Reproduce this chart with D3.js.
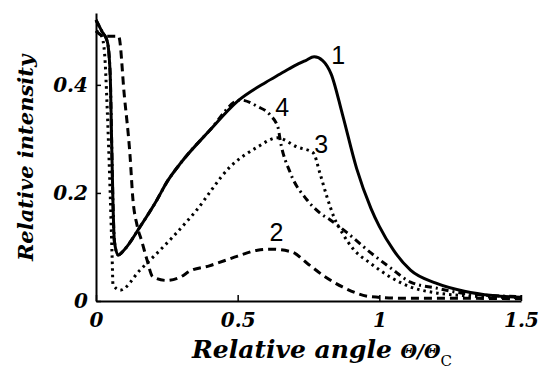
<!DOCTYPE html>
<html>
<head>
<meta charset="utf-8">
<script src="https://cdn.jsdelivr.net/npm/d3@7"></script>
<style>
  body { margin: 0; background: #fff; }
  .tick text, .axis-title { font-family: "DejaVu Serif", serif; font-weight: bold; font-style: italic; }
  .curve-label { font-family: "Liberation Sans", sans-serif; }
</style>
</head>
<body>
<svg class="chart" width="543" height="373"></svg>
<script>
// values
var xTicks = [0, 0.5, 1, 1.5];
var yTicks = [0, 0.2, 0.4];

var x1 = [0, 0.02, 0.04, 0.05, 0.055, 0.06, 0.065, 0.078, 0.1, 0.155, 0.215, 0.25, 0.3, 0.4, 0.5, 0.6, 0.65, 0.7, 0.74, 0.77, 0.8, 0.83, 0.87, 0.92, 0.97, 1.0, 1.05, 1.11, 1.2, 1.3, 1.4, 1.5];
var y1 = [0.52, 0.5, 0.48, 0.42, 0.3, 0.18, 0.11, 0.085, 0.095, 0.137, 0.187, 0.22, 0.256, 0.315, 0.37, 0.405, 0.42, 0.435, 0.445, 0.452, 0.445, 0.42, 0.345, 0.245, 0.172, 0.138, 0.094, 0.057, 0.033, 0.018, 0.01, 0.007];

var x2 = [0, 0.03, 0.08, 0.1, 0.12, 0.13, 0.145, 0.162, 0.18, 0.2, 0.25, 0.3, 0.33, 0.4, 0.45, 0.5, 0.57, 0.615, 0.69, 0.745, 0.8, 0.87, 0.97, 1.1, 1.3, 1.5];
var y2 = [0.5, 0.49, 0.49, 0.38, 0.27, 0.19, 0.14, 0.11, 0.076, 0.045, 0.038, 0.045, 0.055, 0.065, 0.074, 0.083, 0.094, 0.096, 0.091, 0.07, 0.048, 0.026, 0.008, 0.005, 0.005, 0.004];

var x3 = [0, 0.02, 0.03, 0.04, 0.05, 0.057, 0.06, 0.085, 0.155, 0.27, 0.35, 0.473, 0.57, 0.64, 0.71, 0.767, 0.79, 0.815, 0.84, 0.87, 0.91, 0.968, 1.04, 1.11, 1.2, 1.3, 1.5];
var y3 = [0.5, 0.49, 0.46, 0.35, 0.2, 0.08, 0.03, 0.02, 0.057, 0.118, 0.165, 0.248, 0.285, 0.302, 0.285, 0.274, 0.237, 0.193, 0.155, 0.125, 0.095, 0.07, 0.044, 0.026, 0.015, 0.01, 0.006];

var x4 = [0, 0.02, 0.04, 0.05, 0.055, 0.06, 0.065, 0.078, 0.1, 0.155, 0.215, 0.25, 0.3, 0.4, 0.51, 0.57, 0.615, 0.643, 0.65, 0.686, 0.745, 0.79, 0.827, 0.887, 0.968, 1.04, 1.11, 1.2, 1.3, 1.5];
var y4 = [0.52, 0.5, 0.48, 0.42, 0.3, 0.18, 0.11, 0.085, 0.095, 0.137, 0.187, 0.22, 0.256, 0.315, 0.372, 0.36, 0.344, 0.32, 0.298, 0.237, 0.187, 0.163, 0.15, 0.126, 0.09, 0.061, 0.035, 0.024, 0.014, 0.008];

var curves = [
    { name: "1", xs: x1, ys: y1, dash: null, lx: 0.855, ly: 0.455 },
    { name: "2", xs: x2, ys: y2, dash: "8,5", lx: 0.637, ly: 0.127 },
    { name: "3", xs: x3, ys: y3, dash: "2.5,4", lx: 0.795, ly: 0.29 },
    { name: "4", xs: x4, ys: y4, dash: "7,4,2,4", lx: 0.657, ly: 0.358 }
];

var svg = d3.select(".chart");

var xScale = d3.scaleLinear().domain([0, 1.5]).range([96, 521]);
var yScale = d3.scaleLinear().domain([0, 0.533]).range([301, 13]);

var g = svg.append("g");

g.append("g")
    .attr("transform", "translate(0,301)")
    .call(d3.axisBottom(xScale).tickValues(xTicks).tickFormat(function(d) { return d; })
        .tickSizeInner(-6).tickSizeOuter(0).tickPadding(12))
    .call(function(a) {
        a.select(".domain").attr("stroke-width", 2);
        a.selectAll(".tick line").attr("stroke-width", 1.5);
        a.selectAll(".tick text").attr("font-size", 20).attr("fill", "#000");
    });

g.append("g")
    .attr("transform", "translate(96,0)")
    .call(d3.axisLeft(yScale).tickValues(yTicks).tickFormat(function(d) { return d; })
        .tickSizeInner(-5).tickSizeOuter(0).tickPadding(8))
    .call(function(a) {
        a.select(".domain").attr("stroke-width", 2);
        a.selectAll(".tick line").attr("stroke-width", 1.5);
        a.selectAll(".tick text").attr("font-size", 20).attr("fill", "#000");
    });

var line = d3.line()
    .x(function(d) { return xScale(d[0]); })
    .y(function(d) { return yScale(d[1]); })
    .curve(d3.curveMonotoneX);

curves.forEach(function(c) {
    var pts = c.xs.map(function(v, i) { return [v, c.ys[i]]; });
    g.append("path")
        .datum(pts)
        .attr("fill", "none")
        .attr("stroke", "#000")
        .attr("stroke-width", 3)
        .attr("stroke-dasharray", c.dash)
        .attr("d", line);
    g.append("text")
        .attr("class", "curve-label")
        .attr("x", xScale(c.lx))
        .attr("y", yScale(c.ly))
        .attr("text-anchor", "middle")
        .attr("dy", "0.35em")
        .attr("font-size", 25)
        .text(c.name);
});

svg.append("text")
    .attr("class", "axis-title")
    .attr("transform", "translate(33,158) rotate(-90)")
    .attr("text-anchor", "middle")
    .attr("font-size", 21)
    .text("Relative intensity");

var xt = svg.append("text")
    .attr("class", "axis-title")
    .attr("x", 192)
    .attr("y", 358)
    .attr("font-size", 25);
xt.append("tspan").text("Relative angle ");
xt.append("tspan").attr("font-size", 19).text("\u0398/\u0398");
xt.append("tspan").attr("dy", 8).attr("font-size", 15).attr("font-style", "normal").attr("font-weight", "normal").text("C");
</script>
</body>
</html>
